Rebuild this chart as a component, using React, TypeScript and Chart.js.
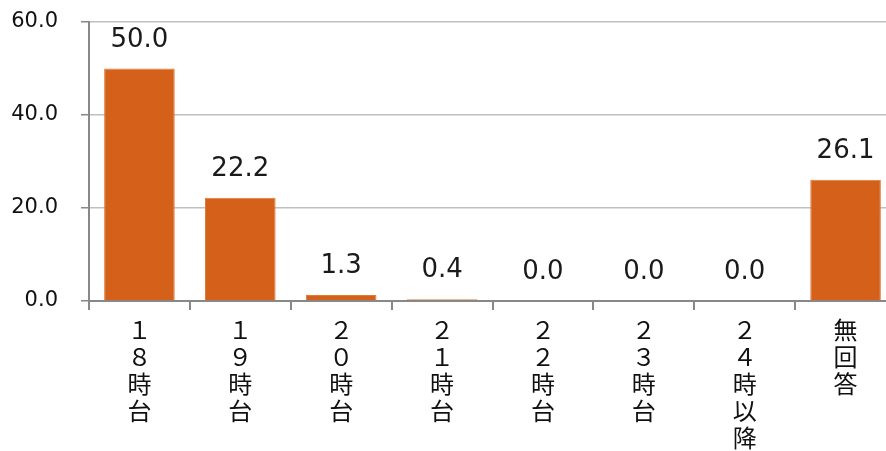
import React, { useEffect, useRef } from "react";
import { Chart, registerables } from "chart.js";

Chart.register(...registerables);

const categories: string[][] = [
  ["１", "８", "時", "台"],
  ["１", "９", "時", "台"],
  ["２", "０", "時", "台"],
  ["２", "１", "時", "台"],
  ["２", "２", "時", "台"],
  ["２", "３", "時", "台"],
  ["２", "４", "時", "以", "降"],
  ["無", "回", "答"],
];
const values: number[] = [50.0, 22.2, 1.3, 0.4, 0.0, 0.0, 0.0, 26.1];
const yTicks: number[] = [0, 20, 40, 60];

const FONT = "'DejaVu Sans', 'Noto Sans CJK JP', sans-serif";

const labelPlugin = {
  id: "barLabels",
  afterDatasetsDraw(chart: any) {
    const ctx = chart.ctx;
    const meta = chart.getDatasetMeta(0);
    ctx.save();
    ctx.font = `26px ${FONT}`;
    ctx.fillStyle = "#1a1a1a";
    ctx.textAlign = "center";
    ctx.textBaseline = "alphabetic";
    meta.data.forEach((bar: any, i: number) => {
      ctx.fillText(values[i].toFixed(1), bar.x, bar.y - 22);
    });
    ctx.restore();
  },
};

export default function App() {
  const ref = useRef<HTMLCanvasElement>(null);
  useEffect(() => {
    if (!ref.current) return;
    const chart = new Chart(ref.current, {
      type: "bar",
      data: {
        labels: categories,
        datasets: [
          {
            data: values,
            backgroundColor: "#D5601A",
            borderColor: "#E07A3A",
            borderWidth: 1,
            barPercentage: 0.7,
            categoryPercentage: 1,
          },
        ],
      },
      options: {
        animation: false,
        responsive: false,
        maintainAspectRatio: false,
        layout: { padding: { top: 22, right: 4, left: 0, bottom: 0 } },
        plugins: { legend: { display: false }, tooltip: { enabled: false } },
        scales: {
          x: {
            offset: true,
            grid: {
              offset: true,
              drawOnChartArea: false,
              drawTicks: true,
              tickLength: 9,
              tickColor: "#888888",
              lineWidth: 2,
            },
            border: { color: "#888888", width: 2 },
            ticks: {
              maxRotation: 0,
              minRotation: 0,
              autoSkip: false,
              padding: 9,
              color: "#111111",
              font: { family: FONT, size: 24, lineHeight: 1.13 },
            },
            afterFit: (scale: any) => {
              scale.height = 150;
              scale.paddingLeft = 0;
              scale.paddingRight = 0;
              scale.paddingTop = 0;
              scale.paddingBottom = 0;
            },
          },
          y: {
            min: 0,
            max: 60,
            afterBuildTicks: (scale: any) => {
              scale.ticks = yTicks.map((v) => ({ value: v }));
            },
            grid: {
              color: "#C0C0C0",
              lineWidth: 1.5,
              tickLength: 8,
              tickColor: "#888888",
            },
            border: { color: "#888888", width: 2 },
            ticks: {
              padding: 23,
              color: "#111111",
              font: { family: FONT, size: 21 },
              callback: (v: any) => Number(v).toFixed(1),
            },
            afterFit: (scale: any) => {
              scale.width = 89;
              scale.paddingTop = 0;
              scale.paddingBottom = 0;
              scale.paddingLeft = 0;
              scale.paddingRight = 0;
            },
          },
        },
      },
      plugins: [labelPlugin],
    });
    return () => chart.destroy();
  }, []);
  return (
    <div
      style={{
        position: "fixed",
        left: 0,
        top: 0,
        width: 886,
        height: 451,
        overflow: "hidden",
        background: "#fff",
      }}
    >
      <canvas ref={ref} width={900} height={451} style={{ display: "block" }} />
    </div>
  );
}
